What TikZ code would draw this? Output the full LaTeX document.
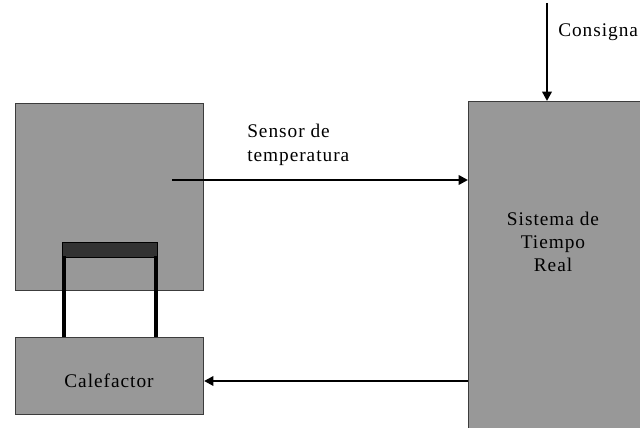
\documentclass[tikz,border=0pt]{standalone}
\usepackage{fontspec}
\setmainfont{Liberation Serif}[LetterSpace=5]
\usetikzlibrary{arrows.meta}
\definecolor{boxgray}{RGB}{152,152,152}
\definecolor{bardark}{RGB}{50,50,50}
\definecolor{edgegray}{RGB}{60,60,60}
\tikzset{
  blk/.style={draw=edgegray, fill=boxgray, line width=0.8pt, rectangle, inner sep=0pt},
  lbl/.style={font=\fontsize{14.5}{18}\selectfont, inner sep=0pt},
  sig/.style={line width=1.9pt, -{Triangle[length=7pt,width=7pt]}},
  leg/.style={line width=3pt},
}
\begin{document}
\begin{tikzpicture}[x=0.75pt,y=-0.75pt]
\useasboundingbox (0,0) rectangle (640,428);
\clip (0,0) rectangle (640,428);
% tank
\node[blk, minimum width=141pt, minimum height=140.25pt, anchor=north west] (tank) at (15,103) {};
% heater
\node[blk, minimum width=141pt, minimum height=57.75pt, anchor=north west] (cal) at (15,337) {};
\node[lbl] (caltxt) at (109,381) {Calefactor};
% heating plate
\node[draw=black, fill=bardark, line width=0.8pt, inner sep=0pt, minimum width=71.25pt, minimum height=11.25pt, anchor=north west] (bar) at (62,242) {};
\coordinate (la) at (63.5,256);
\coordinate (lb) at (155.5,256);
\draw[leg] (la) -- (la |- cal.north);
\draw[leg] (lb) -- (lb |- cal.north);
% real-time system
\node[blk, minimum width=150pt, minimum height=270pt, anchor=north west] (rt) at (468,101) {};
\node[lbl, align=center] (rttxt) at (553,242) {Sistema de\\[-0.5pt]Tiempo\\[-0.5pt]Real};
% sensor
\coordinate (s0) at (172,180);
\draw[sig] (s0) -- (s0 -| rt.west);
\node[lbl, align=left, anchor=north west] (stxt) at (247,124) {Sensor de\\temperatura};
% consigna
\coordinate (c0) at (547,3);
\draw[sig] (c0) -- (c0 |- rt.north);
\node[lbl, anchor=west] (ctxt) at (558,32) {Consigna};
% return
\coordinate (r0) at (468,381);
\draw[sig] (r0) -- (r0 -| cal.east);
\end{tikzpicture}
\end{document}
